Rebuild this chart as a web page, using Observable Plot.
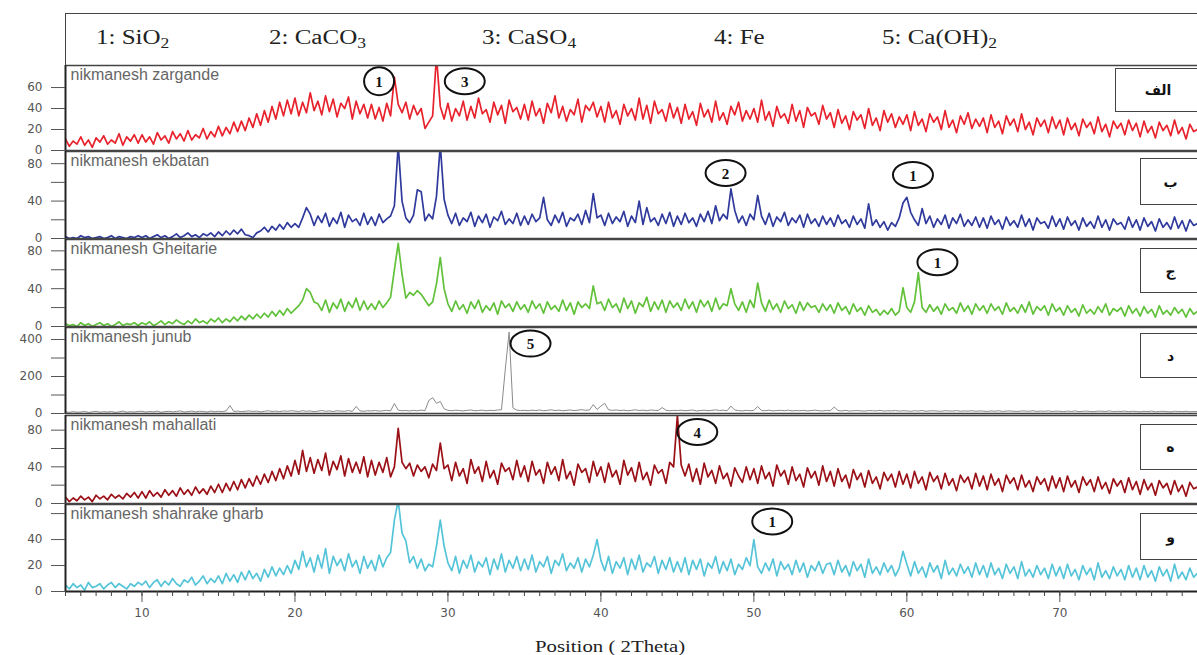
<!DOCTYPE html>
<html><head><meta charset="utf-8">
<script src="https://cdn.jsdelivr.net/npm/d3@7"></script>
<script src="https://cdn.jsdelivr.net/npm/@observablehq/plot@0.6"></script>
<style>
body{margin:0;background:#fff;}
#wrap{position:relative;width:1197px;height:655px;overflow:hidden;background:#fff;}
.panel{position:absolute;left:0;}
.panel svg{overflow:visible;display:block;}
#legend{position:absolute;left:65px;top:13px;width:1140px;height:53px;border:1.5px solid #444;border-right:none;box-sizing:border-box;font-family:"Liberation Serif",serif;font-size:20px;color:#222;background:#fff;}
#legend span{position:absolute;top:12px;white-space:nowrap;transform:scaleX(1.25);transform-origin:0 50%;}
#legend sub{font-size:0.7em;vertical-align:-0.25em;line-height:0;}
.tag{position:absolute;border:1.5px solid #444;border-right:none;background:#fff;font-family:"DejaVu Sans",sans-serif;font-weight:bold;font-size:14px;display:flex;align-items:center;justify-content:center;box-sizing:border-box;color:#111;z-index:5;}
#xlabel{position:absolute;top:638px;left:535px;font-family:"Liberation Serif",serif;font-size:16px;color:#222;transform:scaleX(1.3);transform-origin:0 50%;white-space:nowrap;}
</style></head>
<body><div id="wrap"></div>
<script>
// 2-theta grid: first angle and step (degrees)
const thetaStart = 5, thetaStep = 0.25;

const zargande = [
11,4,9,6,13,5,10,3,12,8,14,6,10,7,16,5,13,9,15,7,
15,8,13,6,17,10,14,7,18,11,16,9,19,10,15,12,21,11,18,13,
23,14,22,16,27,18,28,19,31,22,35,24,38,27,42,30,46,33,48,35,
50,33,46,36,55,38,47,34,52,37,49,32,45,40,51,30,47,35,44,31,
44,30,41,28,45,33,70,44,36,46,30,43,34,40,21,27,33,90,42,30,
45,28,40,33,47,29,42,31,50,35,39,27,46,34,43,26,48,37,41,30,
44,29,47,33,40,26,45,36,52,31,42,28,39,34,49,27,43,38,46,32,
42,27,46,31,38,25,44,33,40,29,50,30,43,26,47,35,39,28,45,31,
41,26,44,30,37,24,45,32,39,27,47,29,36,25,42,34,46,28,38,30,
40,27,48,29,37,23,42,31,35,26,44,28,38,22,41,33,36,25,43,30,
36,22,39,26,33,20,37,29,34,21,40,24,31,19,38,27,35,22,32,25,
34,19,37,24,30,18,35,27,32,20,38,22,29,17,33,25,36,21,30,23,
31,17,34,22,28,16,33,24,30,18,35,20,27,15,31,23,29,17,32,21,
29,15,31,20,26,14,30,22,27,16,32,18,25,13,28,21,26,15,29,19,
26,13,28,17,23,12,27,19,24,14,29,16,22,11,25,18,20];

const ekbatan = [
2,0,1,0,3,1,2,0,1,2,0,1,3,0,2,1,0,2,1,3,
1,3,0,2,4,1,3,0,2,5,1,3,6,2,4,1,5,3,6,2,
7,3,8,4,9,5,10,4,3,1,6,8,12,7,13,9,15,10,17,12,
16,12,22,33,26,14,24,17,27,13,22,16,28,12,25,18,21,14,27,15,
23,14,26,17,21,24,35,100,40,22,17,25,52,50,19,26,21,45,100,42,
25,16,27,14,22,18,28,13,24,17,26,12,23,19,29,15,21,16,27,14,
24,15,26,18,22,44,20,14,25,17,28,13,22,19,26,15,30,17,48,22,
25,14,27,16,23,18,29,13,24,17,40,15,33,18,22,14,26,16,28,13,
24,15,27,17,22,13,26,18,29,16,35,19,26,21,53,30,17,24,14,26,
20,46,24,15,27,13,23,18,28,14,22,17,25,12,26,16,21,13,24,15,
22,13,25,16,20,12,24,15,21,11,37,14,20,12,18,9,17,13,22,38,
44,28,20,14,32,16,24,12,21,15,25,11,22,16,26,13,20,14,23,12,
22,11,24,15,20,10,23,14,19,12,25,13,21,9,22,16,18,11,24,13,
21,10,23,14,19,9,22,13,18,11,24,12,20,9,21,15,17,10,23,12,
20,9,22,13,18,8,21,12,17,10,23,11,19,8,20,14,16];

const gheitarie = [
3,1,2,0,4,1,3,0,2,4,1,3,0,2,5,1,3,2,4,1,
4,2,5,1,3,6,2,5,3,7,4,2,6,3,8,4,6,3,8,5,
9,4,8,5,10,6,11,7,12,8,13,9,14,10,16,11,17,12,19,14,
18,22,28,40,36,26,24,17,28,15,25,19,29,16,26,20,30,17,27,18,
24,18,27,20,25,31,60,88,55,30,36,33,38,34,28,22,26,45,73,40,
24,16,27,18,23,14,26,19,28,15,22,17,25,13,27,20,24,16,26,18,
23,15,27,19,24,14,26,18,22,16,28,17,25,13,26,20,24,19,43,24,
26,17,29,20,24,15,30,19,27,14,25,21,31,16,26,18,28,15,27,20,
25,17,29,19,26,15,28,21,27,16,30,18,24,22,40,24,17,26,15,28,
20,46,25,16,28,18,24,15,27,19,23,14,26,17,25,20,22,15,24,17,
23,14,25,17,21,13,24,16,20,12,22,15,18,12,17,13,19,12,16,41,
20,15,26,57,20,15,23,16,21,13,24,17,20,14,25,16,22,13,24,17,
22,14,24,17,21,13,25,16,20,14,23,15,26,13,21,17,22,12,24,16,
20,12,22,15,19,11,23,14,18,13,21,15,24,12,19,16,20,11,22,14,
19,11,21,14,18,10,22,13,17,12,20,14,18,10,19,13,16];

const junub = [
9,6,10,7,8,11,6,9,12,7,10,8,11,6,9,13,7,10,8,11,
12,8,11,9,13,7,10,12,9,11,14,8,10,13,9,12,11,8,13,10,
12,10,14,43,11,13,10,12,14,11,13,9,12,15,11,13,10,14,12,15,
13,11,15,12,14,10,13,16,12,14,11,15,13,12,16,11,38,14,12,15,
14,16,13,15,17,14,54,18,15,16,14,17,15,18,16,70,86,55,65,25,
17,15,18,16,14,17,19,15,16,18,15,17,16,19,20,240,440,30,18,16,
17,15,18,16,19,15,17,20,16,18,15,17,19,16,18,21,17,19,48,22,
40,55,20,17,19,16,18,15,17,20,16,18,15,19,17,16,32,18,15,17,
16,18,15,17,19,14,16,18,15,17,20,16,18,15,40,19,16,14,17,15,
17,38,16,15,18,14,16,17,15,18,14,16,15,17,14,16,18,15,14,16,
15,35,16,14,17,13,15,16,14,13,16,15,14,17,13,15,14,16,13,15,
14,12,15,13,16,12,14,15,13,12,15,14,13,16,12,14,13,15,12,14,
13,11,14,12,15,11,13,14,12,11,14,13,12,15,11,13,12,14,11,13,
12,10,13,11,14,10,12,13,11,10,13,12,11,14,10,12,11,13,10,12,
11,9,12,10,13,9,11,12,10,9,12,11,10,12,9,11,10];

const mahallati = [
7,2,6,3,8,4,7,2,9,5,8,4,10,6,9,5,11,7,12,6,
13,6,14,8,12,7,15,9,14,8,17,10,15,9,18,11,16,10,19,12,
21,12,22,14,24,15,26,17,27,19,30,21,32,23,35,25,38,27,41,30,
47,32,58,35,50,33,48,36,55,31,46,37,52,30,49,34,45,33,51,29,
47,31,45,34,50,29,40,82,45,38,44,30,42,35,40,28,43,36,66,38,
42,25,45,30,38,22,48,33,40,24,46,28,36,21,44,35,39,26,47,29,
41,24,46,31,37,22,45,32,40,25,48,27,35,20,43,34,38,23,46,30,
40,23,44,29,36,21,47,31,39,24,45,26,34,20,42,33,37,22,45,40,
96,42,30,43,24,38,21,44,29,36,22,41,27,33,19,39,30,23,40,26,
38,22,41,27,34,19,42,30,36,21,40,25,32,18,39,28,35,20,41,24,
35,19,38,24,31,17,37,26,33,18,36,22,29,16,34,25,32,18,35,21,
32,17,35,22,29,15,34,24,30,16,33,20,27,14,31,23,29,16,33,19,
30,15,32,20,27,13,31,22,28,15,31,18,25,13,29,21,27,14,30,17,
28,13,30,18,25,12,29,20,26,13,29,16,23,11,27,19,25,12,28,15,
24,10,26,15,22,9,25,17,22,10,25,13,20,8,23,16,18];

const shahrakeGharb = [
5,2,6,3,5,1,7,3,4,6,2,5,7,3,6,4,2,6,4,7,
5,8,3,7,9,4,8,5,10,6,4,9,7,11,5,8,12,6,10,7,
12,6,14,8,13,7,15,9,16,10,14,8,17,11,19,12,18,13,20,14,
24,17,31,19,26,15,28,18,33,14,27,20,25,16,29,19,24,14,27,18,
24,16,28,19,26,30,55,70,45,39,22,27,18,25,16,21,19,35,55,35,
22,16,27,14,24,18,28,15,23,19,26,13,25,17,29,15,24,18,27,16,
25,17,28,15,23,19,27,14,24,20,29,16,22,18,26,15,25,19,28,40,
24,16,27,14,23,18,26,13,25,17,28,15,22,19,27,14,24,17,26,15,
23,15,26,13,24,17,25,12,22,18,27,14,23,16,25,13,21,17,26,20,
40,19,14,22,16,25,12,23,17,21,13,24,15,22,11,20,16,23,14,21,
22,13,24,15,20,12,23,16,21,11,25,14,19,13,22,15,20,12,18,31,
21,12,23,14,19,11,22,15,20,10,24,13,18,12,21,14,19,11,22,13,
20,11,22,13,18,10,21,14,19,10,23,12,17,11,20,13,18,10,21,12,
19,10,21,12,17,9,20,13,18,9,22,11,16,10,19,12,17,9,20,11,
18,9,20,11,16,8,19,12,17,8,21,10,15,9,18,11,14];

const sampleNames = ["nikmanesh zargande","nikmanesh ekbatan","nikmanesh Gheitarie","nikmanesh junub","nikmanesh mahallati","nikmanesh shahrake gharb"];
const panelTags = ["الف","ب","ج","د","ه","و"];
const seriesColors = ["#e8222c","#2f3a9c","#62c13a","#8a8a8a","#9a1016","#55c4d8"];
const yMax = [81, 93, 92, 465, 96, 67];
const yTicks = [[0,20,40,60],[0,40,80],[0,40,80],[0,200,400],[0,40,80],[0,20,40]];
const yMinorTicks = [[],[20,60],[20,60],[100,300],[20,60],[60]];
const xTicks = [10,20,30,40,50,60,70];
const xMinorTicks = d3.range(5, 80, 1);
const legendItems = ["1: SiO<sub>2</sub>","2: CaCO<sub>3</sub>","3: CaSO<sub>4</sub>","4: Fe","5: Ca(OH)<sub>2</sub>"];
const peakMarks = [
  {panel:0, label:"1", theta:25.5, y:66},
  {panel:0, label:"3", theta:31.1, y:66},
  {panel:1, label:"2", theta:48.15, y:70},
  {panel:1, label:"1", theta:60.4, y:68},
  {panel:2, label:"1", theta:62.0, y:68},
  {panel:3, label:"5", theta:35.4, y:378},
  {panel:4, label:"4", theta:46.3, y:78},
  {panel:5, label:"1", theta:51.2, y:54}
];

// layout (pixels)
const panelTop = [65, 151, 239, 327, 415, 504];
const panelH = [85, 87, 87, 86, 88, 87];
const tagBox = [[1115,68,44],[1140,158,47],[1140,248,45],[1140,333,45],[1140,424,46],[1140,513,47]];
const legendLeft = [30, 203, 416, 648, 816];

const series = [zargande, ekbatan, gheitarie, junub, mahallati, shahrakeGharb];

function ellipse(rx, ry) {
  const k = 0.5522847498;
  return {draw(ctx) {
    ctx.moveTo(rx, 0);
    ctx.bezierCurveTo(rx, ry*k, rx*k, ry, 0, ry);
    ctx.bezierCurveTo(-rx*k, ry, -rx, ry*k, -rx, 0);
    ctx.bezierCurveTo(-rx, -ry*k, -rx*k, -ry, 0, -ry);
    ctx.bezierCurveTo(rx*k, -ry, rx, -ry*k, rx, 0);
    ctx.closePath();
  }};
}

const wrap = document.getElementById("wrap");

const legend = document.createElement("div");
legend.id = "legend";
legendItems.forEach((t, i) => {
  const s = document.createElement("span");
  s.innerHTML = t; s.style.left = legendLeft[i] + "px";
  legend.appendChild(s);
});
wrap.appendChild(legend);

series.forEach((vals, p) => {
  const last = p === series.length - 1;
  const data = vals.map((v, i) => ({theta: thetaStart + i * thetaStep, counts: v}));
  const ann = peakMarks.filter(a => a.panel === p);
  const noisy = p !== 3;
  const marks = [
    Plot.line(data, {x: "theta", y: "counts", stroke: seriesColors[p], strokeWidth: noisy ? 1.7 : 1, clip: true}),
    Plot.ruleY([yMax[p]], {stroke: "#444", strokeWidth: 1.5}),
    Plot.ruleY([0], {stroke: last ? "#222" : "#444", strokeWidth: last ? 2 : 1.5}),
    Plot.ruleX([5], {stroke: "#222", strokeWidth: 2}),
    Plot.axisY({ticks: yTicks[p], tickSize: 14, tickPadding: 9, fontSize: 12, color: "#555", label: null}),
    Plot.axisY({ticks: yMinorTicks[p], tickSize: 14, tickFormat: () => "", color: "#555", label: null}),
    Plot.text([sampleNames[p]], {frameAnchor: "top-left", dx: 5, dy: 3, fontSize: 16, fontFamily: "Liberation Sans, sans-serif", fill: "#666"}),
    Plot.dot(ann.filter(a => !(a.panel === 0 && a.label === "1")), {x: "theta", y: "y", symbol: ellipse(20, 13), stroke: "#111", strokeWidth: 2, fill: "none"}),
    Plot.dot(ann.filter(a => a.panel === 0 && a.label === "1"), {x: "theta", y: "y", symbol: ellipse(15, 14), stroke: "#111", strokeWidth: 2, fill: "none"}),
    Plot.text(ann, {x: "theta", y: "y", text: "label", fontSize: 15, fontWeight: "bold", fontFamily: "Liberation Serif, serif", fill: "#111", dy: 1})
  ];
  if (last) {
    marks.push(Plot.axisX({ticks: xTicks, tickSize: 11, tickPadding: 6, fontSize: 12, color: "#555", label: null}));
    marks.push(Plot.axisX({ticks: xMinorTicks, tickSize: 5, tickFormat: () => "", color: "#444", label: null}));
  }
  const chart = Plot.plot({
    width: 1197, height: panelH[p] + (last ? 50 : 0),
    marginTop: 0, marginBottom: last ? 50 : 0, marginLeft: 65, marginRight: 0,
    x: {domain: [5, 79], axis: last ? undefined : null, label: null},
    y: {domain: [0, yMax[p]], label: null},
    style: {fontFamily: "DejaVu Sans, sans-serif", background: "transparent", overflow: "visible"},
    marks
  });
  const div = document.createElement("div");
  div.className = "panel";
  div.style.top = panelTop[p] + "px";
  div.appendChild(chart);
  wrap.appendChild(div);

  const tb = document.createElement("div");
  tb.className = "tag";
  tb.textContent = panelTags[p];
  tb.style.left = tagBox[p][0] + "px";
  tb.style.top = tagBox[p][1] + "px";
  tb.style.height = tagBox[p][2] + "px";
  tb.style.width = (1200 - tagBox[p][0]) + "px";
  wrap.appendChild(tb);
});

const xl = document.createElement("div");
xl.id = "xlabel";
xl.textContent = "Position ( 2Theta)";
wrap.appendChild(xl);
</script>
</body></html>
